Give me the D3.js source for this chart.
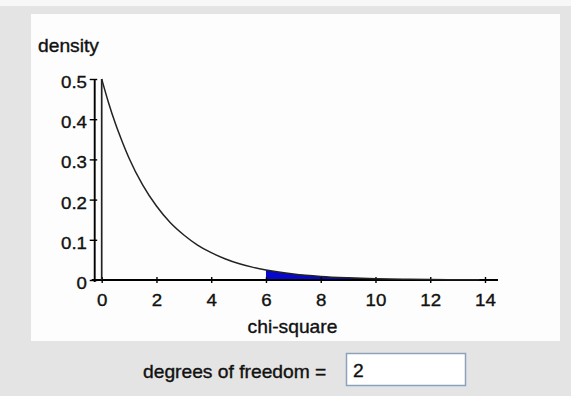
<!DOCTYPE html>
<html>
<head>
<meta charset="utf-8">
<script src="https://cdn.jsdelivr.net/npm/d3@7"></script>
<style>
  html, body { margin: 0; padding: 0; background: #e4e4e4; }
  svg { display: block; }
  text { font-family: "Liberation Sans", Arial, sans-serif; fill: #111; stroke: #111; stroke-width: 0.35px; }
</style>
</head>
<body>
<svg id="chart" width="571" height="396"></svg>
<script>
// Chi-square density curve (df = 2), sampled points
const chiX = [0, 0.25, 0.5, 0.75, 1, 1.5, 2, 2.5, 3, 3.5, 4, 4.5, 5, 5.5, 6, 7, 8, 9, 10, 11, 12, 13, 13.8];
const densityY = [0.5, 0.441, 0.389, 0.344, 0.303, 0.236, 0.184, 0.143, 0.112, 0.087, 0.068, 0.053, 0.041, 0.032, 0.025, 0.015, 0.009, 0.0056, 0.0034, 0.002, 0.0012, 0.0008, 0.0005];
// Upper-tail region that is shaded
const tailStart = 6;
const xTicks = [0, 2, 4, 6, 8, 10, 12, 14];
const yTicks = [0, 0.1, 0.2, 0.3, 0.4, 0.5];
const yTickLabels = ["0", "0.1", "0.2", "0.3", "0.4", "0.5"];
const degreesOfFreedom = "2";

const svg = d3.select("#chart");
const SX = 1.1; // horizontal stretch of the lettering

// page chrome
svg.append("rect").attr("x", 0).attr("y", 0).attr("width", 571).attr("height", 6).attr("fill", "#f7f7f7");
svg.append("rect").attr("x", 31).attr("y", 14).attr("width", 529).attr("height", 327).attr("fill", "#fdfdfd");

const x = d3.scaleLinear().domain([0, 14]).range([101.7, 485]);
const y = d3.scaleLinear().domain([0, 0.5]).range([280, 79]);

const pts = chiX.map((v, i) => ({ x: v, y: densityY[i] }));

function stretchedText(px, py, str, size, anchor) {
  const g = svg.append("g").attr("transform", `translate(${px},${py}) scale(${SX},1)`);
  g.append("text").attr("font-size", size).attr("text-anchor", anchor || "start").text(str);
  return g;
}

// shaded tail
const tail = pts.filter(d => d.x >= tailStart);
svg.append("path")
  .datum(tail)
  .attr("fill", "#0808cc")
  .attr("d", d3.area().x(d => x(d.x)).y0(y(0)).y1(d => y(d.y)).curve(d3.curveMonotoneX));

// x axis
const xAxis = svg.append("g").attr("transform", `translate(0,${y(0)})`)
  .call(d3.axisBottom(x).tickValues(xTicks).tickFormat(d3.format("d")).tickSizeOuter(0));
xAxis.select(".domain").remove();
xAxis.selectAll(".tick line").attr("y1", -3).attr("y2", 3).attr("stroke", "#000").attr("stroke-width", 1.4);
xAxis.selectAll(".tick text").attr("y", 26).attr("dy", null)
  .attr("font-size", 17).attr("font-family", "Liberation Sans, Arial, sans-serif").attr("fill", "#111")
  .attr("transform", `scale(${SX},1)`);
svg.append("line")
  .attr("x1", x(0) - 10).attr("x2", x(14) + 13)
  .attr("y1", y(0)).attr("y2", y(0))
  .attr("stroke", "#000").attr("stroke-width", 1.8);

// y axis (drawn just left of x = 0)
const yAxisX = x(0) - 7;
const yAxis = svg.append("g").attr("transform", `translate(${yAxisX},0)`)
  .call(d3.axisLeft(y).tickValues(yTicks).tickFormat((d, i) => yTickLabels[i]).tickSizeOuter(0));
yAxis.select(".domain").remove();
yAxis.selectAll(".tick line").attr("x1", -5).attr("x2", 2.5).attr("stroke", "#000").attr("stroke-width", 1.4);
yAxis.selectAll(".tick text").attr("x", -7).attr("dy", "0.5em")
  .attr("font-size", 17).attr("font-family", "Liberation Sans, Arial, sans-serif").attr("fill", "#111")
  .attr("transform", `scale(${SX},1)`);
svg.append("line")
  .attr("x1", yAxisX).attr("x2", yAxisX)
  .attr("y1", y(0.5)).attr("y2", y(0) + 2)
  .attr("stroke", "#000").attr("stroke-width", 1.9);

// density curve: vertical rise at 0, then the decay
svg.append("path")
  .datum([{ x: 0, y: 0 }, pts[0]])
  .attr("fill", "none").attr("stroke", "#222").attr("stroke-width", 1.7)
  .attr("d", d3.line().x(d => x(d.x)).y(d => y(d.y)));
svg.append("path")
  .datum(pts)
  .attr("fill", "none").attr("stroke", "#222").attr("stroke-width", 1.5)
  .attr("d", d3.line().x(d => x(d.x)).y(d => y(d.y)).curve(d3.curveMonotoneX));

// axis titles
stretchedText(38, 52, "density", 17.5);
stretchedText(292.5, 333, "chi-square", 17.5, "middle");

// degrees of freedom field
stretchedText(143, 378, "degrees of freedom =", 17.5);
svg.append("rect").attr("x", 346.5).attr("y", 353.5).attr("width", 119).attr("height", 32)
  .attr("fill", "#fff").attr("stroke", "#8aa2bd").attr("stroke-width", 1.5);
stretchedText(353, 377, degreesOfFreedom, 17.5);
</script>
</body>
</html>
